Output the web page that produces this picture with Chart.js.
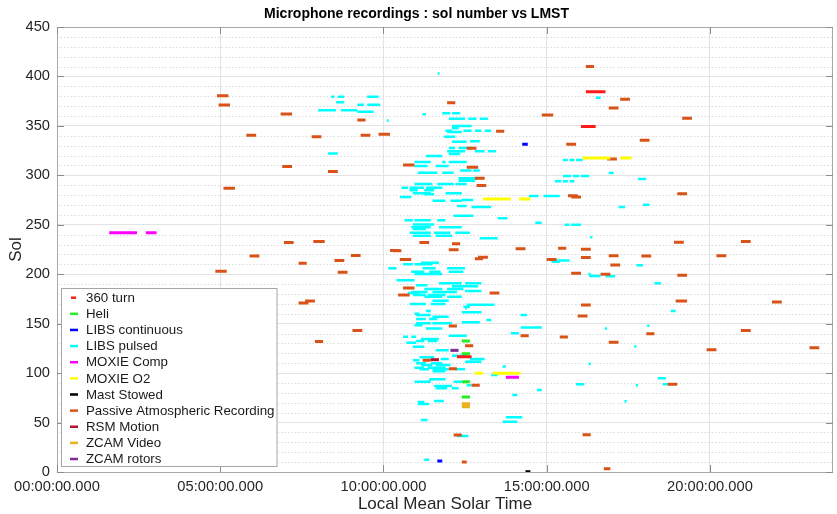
<!DOCTYPE html>
<html><head><meta charset="utf-8">
<script src="https://cdn.jsdelivr.net/npm/chart.js@4.4.0/dist/chart.umd.min.js"></script>
<style>html,body{margin:0;padding:0;background:#fff;}#wrap{width:837px;height:514px;}</style>
</head><body><div id="wrap"><canvas id="c" width="837" height="514"></canvas></div>
<script>
// ---- DATA: each entry is [sol, start LMST hour, end LMST hour] ----
const xTickHours = [0, 5, 10, 15, 20];
const yMinorStep = 10;
const turn360 = [[384.5,16.2,16.8],[349.5,16.05,16.5],[116.6,12.25,12.7]];
const heli = [[132.5,12.4,12.65],[119.6,12.4,12.65],[91.3,12.4,12.65],[75.8,12.4,12.65]];
const libsContinuous = [[331.4,14.25,14.42],[11.1,11.65,11.8]];
const libsPulsed = [
 [379.5,8.4,8.5],[379.5,8.6,8.8],[379.5,9.5,9.85],[374,8.55,8.8],[371.5,9.2,9.4],[371.5,9.5,9.9],
 [365.7,8.0,8.55],[365.7,8.7,9.2],[364.3,9.2,9.7],[355.5,10.1,10.16],[322,8.3,8.6],[403,11.66,11.72],
 [361.7,11.2,11.3],[362.7,11.8,12.05],[362.7,12.1,12.35],[357.3,12.0,12.5],[357.3,12.6,12.85],[357.3,12.95,13.2],
 [350,12.1,12.7],[347.5,12.1,12.3],[345,11.9,12.1],[345,12.45,12.7],[345,12.8,13.0],[345,13.1,13.3],
 [343.8,11.95,12.4],[339,11.85,12.2],[334,12.1,12.55],[334.5,12.65,12.95],[327.6,12.0,12.2],[327.6,12.3,12.7],
 [324.3,11.95,12.5],[324.3,12.8,13.1],[324.3,13.2,13.45],[321.6,12.0,12.35],[319.5,11.3,11.8],
 [313.5,10.95,11.45],[313.5,11.8,11.9],[313.5,12.0,12.55],[378.5,16.5,16.65],
 [315.5,15.5,15.65],[315.5,15.7,15.85],[315.5,15.9,16.1],[302.4,16.9,17.05],
 [299.3,15.5,15.75],[299.3,15.8,16.0],[299.3,16.05,16.3],[296.3,17.8,18.05],
 [294,15.25,15.45],[294,15.5,15.65],[294,15.7,15.85],[279,14.45,14.75],[279,14.9,15.4],
 [268,17.2,17.4],[270.3,17.95,18.15],[252,14.65,14.85],[250,15.55,15.7],[250,15.75,16.05],[237.3,16.33,16.4],
 [309.4,10.95,11.35],[309.4,11.6,12.0],[305,12.35,12.7],[305,12.75,12.95],[302.7,11.05,11.65],[302.7,11.8,12.15],
 [297,12.3,12.85],[294.6,12.3,12.8],[291.2,10.95,11.5],[291.2,11.65,12.15],[291.2,12.2,12.55],
 [287.5,10.55,10.75],[287.5,10.8,11.25],[287.5,11.3,11.8],[285,10.8,11.05],[285,11.25,11.55],
 [282,10.9,11.45],[282,11.9,12.4],[280.8,11.25,11.55],[278,10.5,10.85],[275,12.4,12.75],
 [274.4,11.5,11.9],[274.4,12.05,12.4],[269,12.25,12.55],[268,12.7,13.3],[259.2,12.15,12.75],[256.5,13.5,13.8],
 [254.5,10.65,10.9],[254.5,10.95,11.45],[254.5,11.65,11.9],[250.4,10.9,11.55],[247.5,10.85,11.45],[247.5,11.7,12.4],
 [245.7,10.9,11.3],[242,10.8,11.45],[242,11.55,12.05],[242,12.2,12.65],[239,10.9,11.45],[239,11.6,12.1],
 [236.3,12.95,13.5],[212.7,15.15,15.4],[211.5,11.15,11.7],[210,10.6,10.9],[210,10.95,11.5],
 [206,10.15,10.4],[206,11.2,11.6],[206,11.95,12.5],[214,15.2,15.7],[209,17.75,17.95],
 [200.2,16.28,16.35],[198.2,16.3,16.65],[198,16.8,17.1],[190.8,18.3,18.5],[162.8,18.8,18.95],
 [146,14.78,14.85],[145,16.78,16.85],[148,18.08,18.15],[126.8,17.68,17.75],[109.5,16.28,16.35],
 [94.7,18.4,18.65],[88.7,18.55,18.7],[88.7,15.9,16.15],[87.7,17.73,17.8],[71.5,17.38,17.45],
 [202.5,10.85,11.25],[202.5,11.4,11.75],[202.5,12.0,12.45],[200.2,10.95,11.8],[194,10.4,10.95],
 [190.8,11.7,12.4],[190.8,12.5,13.0],[188.8,11.0,11.35],[187.8,12.1,12.9],[185,11.25,11.8],[185,11.95,12.45],
 [183,12.5,13.0],[182,10.85,11.35],[182,11.5,12.25],[181,10.75,11.1],[179,10.9,11.3],[179,11.35,11.9],
 [177.3,11.25,11.8],[177.3,11.95,12.4],[173.3,11.5,12.0],[170,10.8,11.3],[170,11.45,11.9],
 [169.2,12.55,13.1],[169.2,13.1,13.4],[167.2,12.45,12.65],[165.5,12.5,12.56],[162.8,11.3,11.45],
 [161.5,12.4,13.0],[160,10.95,11.1],[158.8,11.0,11.45],[158.8,14.2,14.4],[157,11.5,12.0],
 [154.7,11.0,11.3],[154.7,11.4,11.65],[153.7,13.15,13.3],[151.4,12.4,12.95],[150.4,11.0,11.45],[150.4,11.5,12.1],
 [148.3,10.95,11.2],[146,14.2,14.8],[145,11.3,11.8],[140.3,13.9,14.15],[137.8,12.0,12.55],
 [136.8,10.6,10.75],[136.8,10.85,11.0],[134.5,11.15,11.7],[132.5,11.0,11.25],[132.5,11.35,11.65],
 [130.8,10.7,11.0],[126.7,10.9,11.25],[123,11.6,12.0],[117.6,12.1,12.55],[116,11.1,11.55],
 [114.3,11.75,12.0],[114.3,12.65,13.1],[113,10.9,11.1],[111.5,12.5,13.0],[110,11.0,11.3],[110,11.45,11.8],
 [108.2,11.15,11.5],[108.2,11.6,12.05],[106.8,13.65,13.75],[105.5,10.95,11.25],[105.5,11.35,11.9],
 [103.8,11.1,11.4],[103.8,11.5,12.0],[103.8,12.2,12.5],[102,11.5,11.9],[98,13.3,13.5],[93.7,11.4,11.9],
 [91.3,10.95,11.45],[91.3,12.15,12.4],[87.6,12.55,12.7],[87,11.55,12.1],[84.6,11.6,11.95],[84.6,12.1,12.3],
 [83,14.7,14.85],[77.9,13.95,14.1],[71.8,11.55,11.85],[70.8,11.05,11.25],[68.8,11.05,11.4],
 [55.3,13.75,14.25],[52.6,11.15,11.35],[50.9,13.65,14.1],[36.4,12.25,12.6],[12.4,11.25,11.4]
];
const moxieComp = [[242,1.6,2.45],[242,2.72,3.05],[95.8,13.75,14.15]];
const moxieO2 = [[317.5,16.1,16.95],[317.5,17.25,17.6],[276,13.05,13.9],[276,14.15,14.5],[99.8,12.8,13.05],[99.8,13.35,14.2]];
const mastStowed = [[0.3,14.35,14.5]];
const passive = [
 [380.5,4.9,5.25],[371,4.95,5.3],[362,6.85,7.2],[340.5,5.8,6.1],[309,6.9,7.2],[287,5.1,5.45],
 [232,6.95,7.25],[218.4,5.9,6.2],[203,4.85,5.2],[211,7.4,7.65],[171,7.4,7.7],[173,7.6,7.9],
 [356,9.2,9.45],[339,7.8,8.1],[340.5,9.3,9.6],[341.5,9.85,10.2],[310.5,10.6,10.95],[304,8.3,8.6],
 [233,7.85,8.2],[219,9.0,9.3],[224,10.2,10.5],[214,8.5,8.8],[215,10.5,10.85],[202,8.6,8.9],
 [186,10.6,10.95],[179,10.45,10.8],[143,9.05,9.35],[132,7.9,8.15],
 [410,16.2,16.45],[377,17.25,17.55],[368,16.9,17.2],[361,14.85,15.2],[357.7,19.15,19.45],
 [331.4,15.6,15.9],[335.4,17.85,18.15],[316.5,16.85,17.15],[281.4,19.0,19.3],[279.4,15.65,15.95],
 [278,15.75,16.05],[226.2,15.35,15.6],[225.2,16.05,16.35],[232.3,18.9,19.2],[218.7,16.9,17.2],
 [218.4,17.9,18.2],[215,15.0,15.3],[217,16.05,16.35],[209.3,16.95,17.25],[201,15.75,16.05],
 [200,16.65,16.95],[199,19.0,19.3],[173,18.95,19.3],[168.9,16.05,16.35],[157.7,15.95,16.25],
 [139.8,18.05,18.3],[136.5,15.4,15.65],[131.2,16.9,17.2],[88.7,18.7,19.0],[37.7,16.1,16.35],
 [3.3,16.75,16.95],[233,20.95,21.25],[218.7,20.2,20.5],[172,21.9,22.2],[143,20.95,21.25],
 [123.7,19.9,20.2],[125.7,23.05,23.35],[373.5,11.95,12.2],[344.5,13.45,13.7],[327.3,12.55,12.85],
 [308.1,12.55,12.9],[297,12.8,13.1],[289.8,12.85,13.15],[232,11.1,11.4],[230.8,12.1,12.35],
 [223.8,10.3,10.55],[224.8,12.0,12.3],[225.8,14.05,14.35],[215.7,12.8,13.05],[217.1,12.9,13.2],
 [181,13.25,13.55],[147.6,12.0,12.25],[137.8,14.2,14.45],[127.7,12.5,12.75],[113,11.2,11.45],
 [104.5,12.0,12.25],[87.6,12.7,12.95],[37.4,12.15,12.4],[10,12.4,12.55]
];
const rsmMotion = [[113.6,11.45,11.7]];
const zcamVideo = [[69,12.4,12.65],[66,12.4,12.65]];
const zcamRotors = [[123,12.05,12.3]];

const seriesNames = ['360 turn','Heli','LIBS continuous','LIBS pulsed','MOXIE Comp','MOXIE O2','Mast Stowed','Passive Atmospheric Recording','RSM Motion','ZCAM Video','ZCAM rotors'];
const seriesData = [turn360, heli, libsContinuous, libsPulsed, moxieComp, moxieO2, mastStowed, passive, rsmMotion, zcamVideo, zcamRotors];
const seriesColors = ['#ff1a1a','#22ee22','#0000ff','#00ffff','#ff00ff','#ffff00','#000000','#d95319','#b0182f','#edb120','#7e2f8e'];
const drawOrder = [0,0,0,2,0,0,0,1,0,0,0];

const FONT = "'Liberation Sans', Arial, Helvetica, sans-serif";

function segs(list){
  const pts = [];
  list.forEach(([s,a,b]) => { pts.push({x:a,y:s},{x:b,y:s},{x:b,y:null}); });
  return pts;
}
function fmtHour(v){ return String(v).padStart(2,'0') + ':00:00.000'; }

const datasets = seriesNames.map((name,i) => ({
  label: name,
  data: segs(seriesData[i]),
  borderColor: seriesColors[i],
  backgroundColor: seriesColors[i],
  borderWidth: i === 3 ? 2.5 : 3,
  borderCapStyle: 'butt',
  showLine: true,
  pointRadius: 0,
  pointHoverRadius: 0,
  spanGaps: false,
  tension: 0,
  order: drawOrder[i]
}));

const decorPlugin = {
  id: 'decor',
  beforeDatasetsDraw(chart){
    const {ctx, chartArea:a, scales:{y}} = chart;
    ctx.save();
    ctx.strokeStyle = '#d9d9d9';
    ctx.lineWidth = 1;
    ctx.setLineDash([1.5,2]);
    for (let v = 0; v <= y.max; v += yMinorStep){
      if (v % 50 === 0) continue;
      const py = Math.round(y.getPixelForValue(v)) + 0.5;
      ctx.beginPath(); ctx.moveTo(a.left, py); ctx.lineTo(a.right, py); ctx.stroke();
    }
    ctx.restore();
  },
  afterDatasetsDraw(chart){
    const {ctx, chartArea:a, scales:{x,y}} = chart;
    ctx.save();
    ctx.strokeStyle = '#a8a8a8';
    ctx.lineWidth = 1;
    ctx.strokeRect(Math.round(a.left)+0.5, Math.round(a.top)+0.5, Math.round(a.right-a.left)-1, Math.round(a.bottom-a.top));
    ctx.strokeStyle = '#8c8c8c';
    xTickHours.forEach(v => {
      const px = Math.round(x.getPixelForValue(v)) + 0.5;
      ctx.beginPath(); ctx.moveTo(px, a.bottom); ctx.lineTo(px, a.bottom-7); ctx.stroke();
      ctx.beginPath(); ctx.moveTo(px, a.top); ctx.lineTo(px, a.top+7); ctx.stroke();
    });
    for (let v = 0; v <= 450; v += 50){
      const py = Math.round(y.getPixelForValue(v)) + 0.5;
      ctx.beginPath(); ctx.moveTo(a.left, py); ctx.lineTo(a.left+7, py); ctx.stroke();
      ctx.beginPath(); ctx.moveTo(a.right, py); ctx.lineTo(a.right-7, py); ctx.stroke();
    }
    const L = 61, T = 288, R = 277.5, B = 467;
    ctx.fillStyle = '#ffffff';
    ctx.fillRect(L, T, R-L, B-T);
    ctx.strokeStyle = '#a6a6a6';
    ctx.lineWidth = 1;
    ctx.strokeRect(L+0.5, T+0.5, R-L-1, B-T-1);
    ctx.font = '13.3px ' + FONT;
    ctx.textBaseline = 'middle';
    ctx.textAlign = 'left';
    chart.data.datasets.forEach((ds,i) => {
      const cy = T + 9.7 + i*16.13;
      ctx.strokeStyle = ds.borderColor;
      ctx.lineWidth = 2.5;
      ctx.beginPath(); ctx.moveTo(i===0?71:70, cy); ctx.lineTo(i===0?76:78, cy); ctx.stroke();
      ctx.fillStyle = '#1a1a1a';
      ctx.fillText(ds.label, 86, cy + 0.5);
    });
    ctx.restore();
  }
};

new Chart(document.getElementById('c'), {
  type: 'scatter',
  data: { datasets },
  options: {
    responsive: false,
    animation: false,
    devicePixelRatio: 1,
    events: [],
    layout: { padding: { left: 0, right: 4, top: 0, bottom: 0 }, autoPadding: false },
    plugins: {
      legend: { display: false },
      tooltip: { enabled: false },
      title: { display: true, text: 'Microphone recordings : sol number vs LMST', color: '#000',
               font: { family: FONT, size: 14, weight: 'bold' }, padding: { top: 5.5, bottom: 4.7 } }
    },
    scales: {
      x: {
        type: 'linear', min: 0, max: 23.77, position: 'bottom',
        afterBuildTicks: s => { s.ticks = xTickHours.map(v => ({ value: v })); },
        afterFit: s => { s.height = 42; },
        ticks: { callback: v => fmtHour(v), font: { family: FONT, size: 14.7 }, color: '#262626', padding: 6, maxRotation: 0, autoSkip: false },
        grid: { color: '#e3e3e3', lineWidth: 1, drawTicks: false },
        border: { display: false },
        title: { display: true, text: 'Local Mean Solar Time', color: '#262626', font: { family: FONT, size: 17 }, padding: { top: 0, bottom: -1 } }
      },
      y: {
        type: 'linear', min: 0, max: 450, position: 'left',
        afterFit: s => { s.width = 57; },
        ticks: { stepSize: 50, font: { family: FONT, size: 14.7 }, color: '#262626', padding: 7 },
        grid: { color: '#e3e3e3', lineWidth: 1, drawTicks: false },
        border: { display: false },
        title: { display: true, text: 'Sol', color: '#262626', font: { family: FONT, size: 17 }, padding: { top: 6.5, bottom: 0 } }
      }
    }
  },
  plugins: [decorPlugin]
});
</script>
</body></html>
